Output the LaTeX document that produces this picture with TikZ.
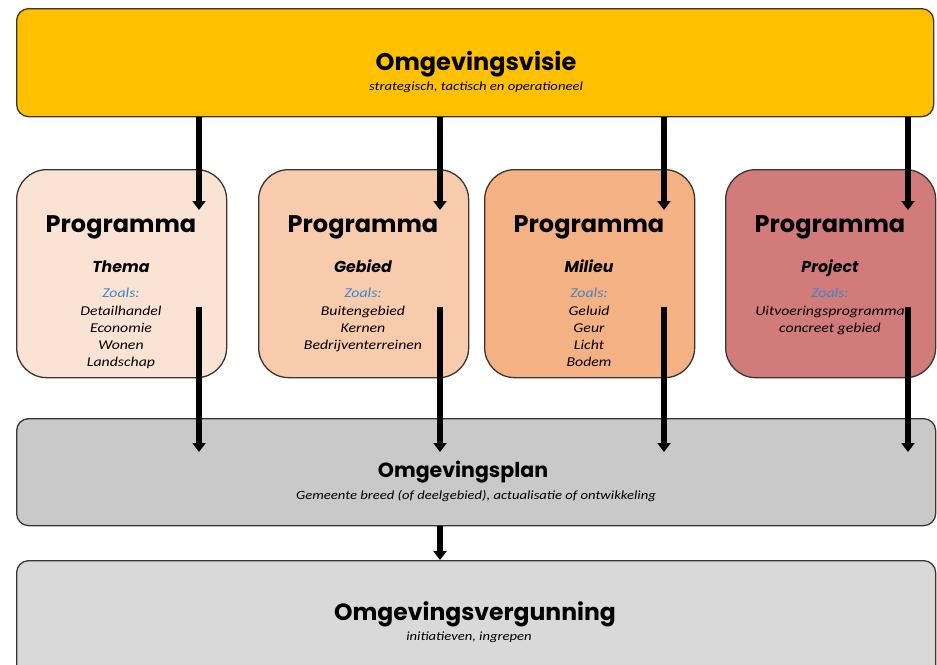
\documentclass[tikz,border=0pt]{standalone}
\usepackage{fontspec}
\setmainfont{Carlito}
\newfontfamily\headfont{Poppins}
\newfontfamily\subfont[FakeStretch=1.17]{Carlito}
\usetikzlibrary{arrows.meta}
\definecolor{visieC}{HTML}{FFC000}
\definecolor{p1C}{HTML}{FBE3D4}
\definecolor{p2C}{HTML}{F8CBAD}
\definecolor{p3C}{HTML}{F4B183}
\definecolor{p4C}{HTML}{D27B7B}
\definecolor{planC}{HTML}{C9C9C9}
\definecolor{vergC}{HTML}{D9D9D9}
\definecolor{zoalsC}{HTML}{3E86C8}
\definecolor{edgeC}{HTML}{3A3530}
\tikzset{
  bigbox/.style={draw=edgeC, line width=1.3pt, rounded corners=12pt, inner sep=0pt, anchor=north west},
  progbox/.style={draw=edgeC, line width=1.3pt, rounded corners=30pt, inner sep=0pt, anchor=north west, minimum width=210pt, minimum height=208pt},
  head/.style={font=\headfont\bfseries\fontsize{24}{26}\selectfont, inner sep=0pt},
  proghead/.style={font=\headfont\bfseries\fontsize{24}{26}\selectfont, inner sep=0pt},
  progsub/.style={font=\headfont\bfseries\itshape\fontsize{15.8}{17}\selectfont, inner sep=0pt, text height=12pt, text depth=0pt},
  sub/.style={font=\subfont\itshape\fontsize{12.5}{14}\selectfont, inner sep=0pt},
  items/.style={font=\subfont\itshape\fontsize{13.5}{17}\selectfont, align=center, inner sep=0pt, anchor=north},
  zoals/.style={font=\subfont\itshape\fontsize{13.5}{15}\selectfont, text=zoalsC, inner sep=0pt},
  arr/.style={line width=5.5pt, -{Triangle[width=13pt,length=9pt]}}
}
\begin{document}
\begin{tikzpicture}[x=1pt,y=-1pt]
\useasboundingbox (0,0) rectangle (937,664);
% boxes
\node[bigbox, fill=visieC, minimum width=917pt, minimum height=108pt] (visie) at (16,8) {};
\node[progbox, fill=p1C] (p1) at (16,169) {};
\node[progbox, fill=p2C] (p2) at (258,169) {};
\node[progbox, fill=p3C] (p3) at (484,169) {};
\node[progbox, fill=p4C] (p4) at (725,169) {};
\node[bigbox, fill=planC, minimum width=919pt, minimum height=107pt] (plan) at (16,418) {};
\node[bigbox, fill=vergC, minimum width=919pt, minimum height=120pt] (verg) at (16,560) {};
% texts
\node[head] (visieT) at (476,64) {Omgevingsvisie};
\node[sub] (visieS) at (476,87) {strategisch, tactisch en operationeel};
\node[proghead] (p1T) at (121,227) {Programma};
\node[proghead] (p2T) at (363,227) {Programma};
\node[proghead] (p3T) at (589,227) {Programma};
\node[proghead] (p4T) at (830,227) {Programma};
\node[progsub] (p1S) at (121,266) {Thema};
\node[progsub] (p2S) at (363,266) {Gebied};
\node[progsub] (p3S) at (589,266) {Milieu};
\node[progsub] (p4S) at (830,266) {Project};
\node[zoals] (p1Z) at (121,293) {Zoals:};
\node[zoals] (p2Z) at (363,293) {Zoals:};
\node[zoals] (p3Z) at (589,293) {Zoals:};
\node[zoals] (p4Z) at (830,293) {Zoals:};
\node[items] (p1L) at (121,306) {Detailhandel\\Economie\\Wonen\\Landschap};
\node[items] (p2L) at (363,306) {Buitengebied\\Kernen\\Bedrijventerreinen};
\node[items] (p3L) at (589,306) {Geluid\\Geur\\Licht\\Bodem};
\node[items] (p4L) at (830,306) {Uitvoeringsprogramma\\concreet gebied};
\node[head, font=\headfont\bfseries\fontsize{20.5}{22}\selectfont] (planT) at (463,472) {Omgevingsplan};
\node[sub] (planS) at (476,496) {Gemeente breed (of deelgebied), actualisatie of ontwikkeling};
\node[head, font=\headfont\bfseries\fontsize{23.5}{25}\selectfont] (vergT) at (475,614) {Omgevingsvergunning};
\node[sub] (vergS) at (469,637) {initiatieven, ingrepen};
% arrow coordinates
\coordinate (t1) at (199,210); \coordinate (t2) at (440,210);
\coordinate (t3) at (664,210); \coordinate (t4) at (908,210);
\coordinate (s1) at (199,307); \coordinate (s2) at (440,307);
\coordinate (s3) at (664,307); \coordinate (s4) at (908,307);
\coordinate (e1) at (199,452); \coordinate (e2) at (440,452);
\coordinate (e3) at (664,452); \coordinate (e4) at (908,452);
\coordinate (v1) at (440,560);
\foreach \i in {1,2,3,4}{
  \draw[arr] (visie.south -| t\i) -- (t\i);
  \draw[arr] (s\i) -- (e\i);
}
\draw[arr] (plan.south -| v1) -- (v1);
\end{tikzpicture}
\end{document}
